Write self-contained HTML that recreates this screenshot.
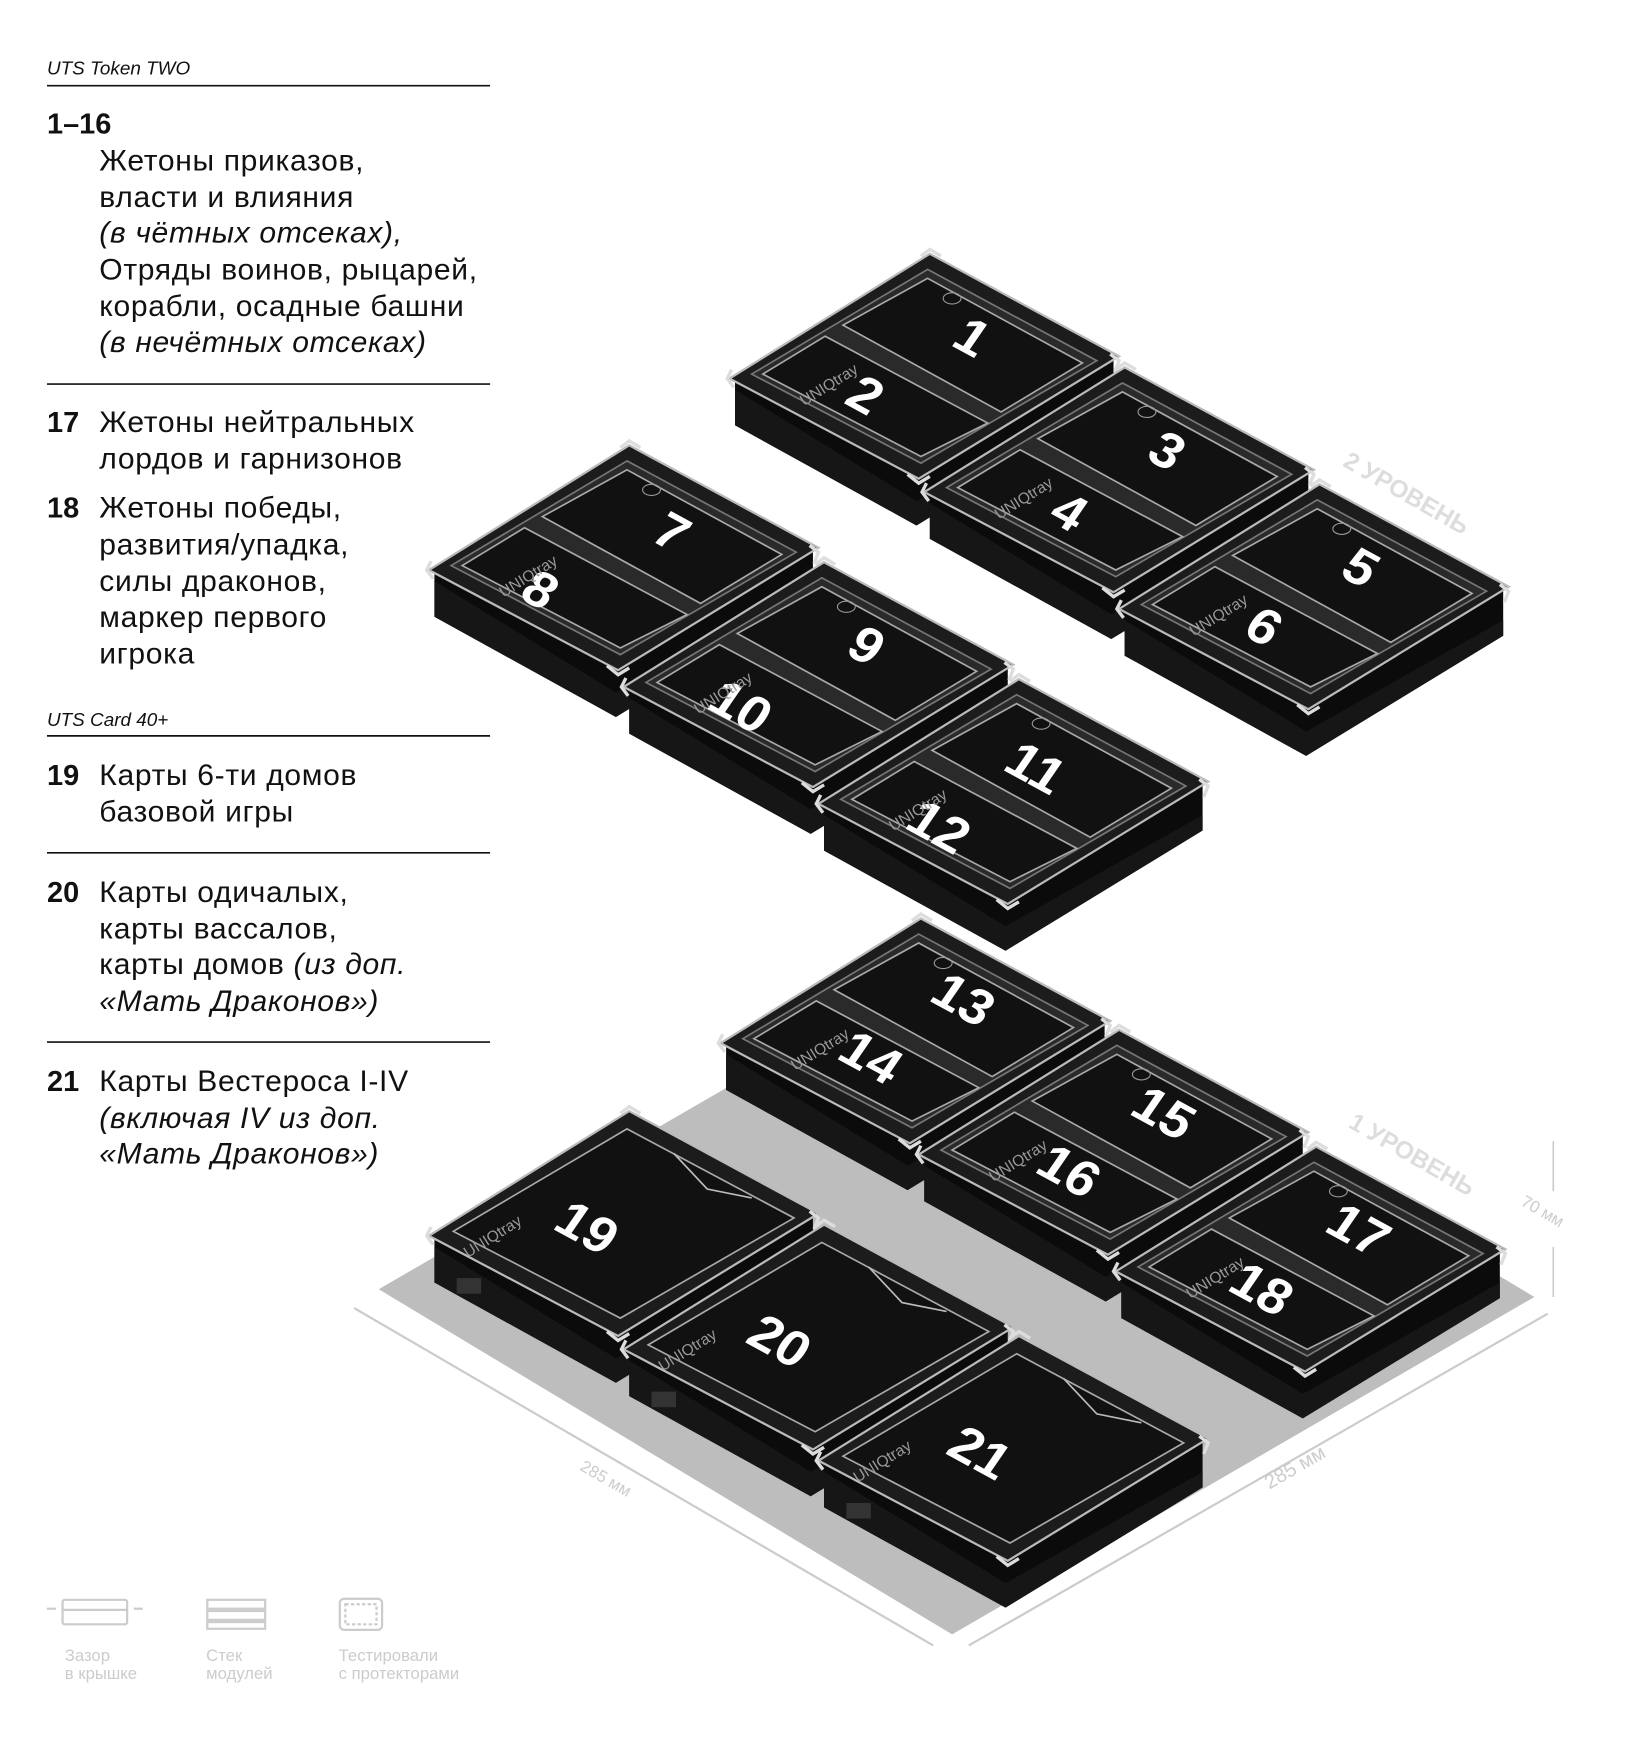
<!DOCTYPE html>
<html><head><meta charset="utf-8"><style>
html,body{margin:0;padding:0;background:#fff}
svg{display:block}
.t{font-family:"Liberation Sans",sans-serif;fill:#111}
.b{font-size:27px;letter-spacing:0.6px}
.n{font-size:26px;font-weight:bold}
.i{font-style:italic}
.num{font-family:"Liberation Sans",sans-serif;font-weight:bold;font-size:48px;fill:#fff}
.logo{font-family:"Liberation Sans",sans-serif;font-size:14px;fill:#999}
.lg{font-family:"Liberation Sans",sans-serif;font-size:15px;fill:#ccc}
</style></head><body>
<svg width="1637" height="1749" viewBox="0 0 1470 1571" xmlns="http://www.w3.org/2000/svg">
<defs>
<g id="tray">
<polygon points="-175,112 0,4 165,94 165,136 -12,244 -175,154" fill="#0b0b0b"/>
<polygon points="-175,122 -12,222 165,122 165,136 -12,244 -175,154" fill="#161616"/>
<polygon points="0,0 170,92 -10,202 -180,112" fill="#1c1c1c" stroke="#bbb" stroke-width="2"/>
<polygon points="-2,14 150,96 -8,188 -160,108" fill="#2a2a2a" stroke="#777" stroke-width="1.5"/>
<polygon points="-2,22 137,98 64,142 -78,64" fill="#111" stroke="#aaa" stroke-width="1.5"/>
<polygon points="-94,74 52,152 -8,182 -150,108" fill="#111" stroke="#aaa" stroke-width="1.5"/>
<path d="M-8,2 l8,-6 l10,6 M162,90 l8,6 l-4,10 M-20,198 l10,8 l10,-6 M-178,104 l-4,8 l6,8" fill="none" stroke="#ddd" stroke-width="3"/>
<ellipse cx="20" cy="40" rx="8" ry="5" fill="none" stroke="#999"/>
</g>
<g id="tray1">
<polygon points="-175,112 0,4 165,94 165,136 -12,244 -175,154" fill="#0b0b0b"/>
<polygon points="-175,122 -12,222 165,122 165,136 -12,244 -175,154" fill="#161616"/>
<polygon points="0,0 170,92 -10,202 -180,112" fill="#1c1c1c" stroke="#bbb" stroke-width="2"/>
<polygon points="-2,16 148,96 -8,186 -158,108" fill="#111" stroke="#aaa" stroke-width="1.5"/>
<polyline points="40,38 70,70 110,78" fill="none" stroke="#bbb" stroke-width="1.5"/>
<path d="M-8,2 l8,-6 l10,6 M162,90 l8,6 l-4,10 M-20,198 l10,8 l10,-6 M-178,104 l-4,8 l6,8" fill="none" stroke="#ddd" stroke-width="3"/>
<rect x="-155" y="150" width="22" height="14" fill="#333"/>
</g>
</defs>

<!-- left text -->
<text class="t i" x="42" y="67" font-size="17">UTS Token TWO</text>
<line x1="42" y1="77" x2="440" y2="77" stroke="#111" stroke-width="1.5"/>
<text class="t n" x="42" y="120">1–16</text>
<text class="t b" x="89" y="153">Жетоны приказов,</text>
<text class="t b" x="89" y="186">власти и влияния</text>
<text class="t b i" x="89" y="218">(в чётных отсеках),</text>
<text class="t b" x="89" y="251">Отряды воинов, рыцарей,</text>
<text class="t b" x="89" y="284">корабли, осадные башни</text>
<text class="t b i" x="89" y="316">(в нечётных отсеках)</text>
<line x1="42" y1="345" x2="440" y2="345" stroke="#111" stroke-width="1.5"/>
<text class="t n" x="42" y="388">17</text>
<text class="t b" x="89" y="388">Жетоны нейтральных</text>
<text class="t b" x="89" y="421">лордов и гарнизонов</text>
<text class="t n" x="42" y="465">18</text>
<text class="t b" x="89" y="465">Жетоны победы,</text>
<text class="t b" x="89" y="498">развития/упадка,</text>
<text class="t b" x="89" y="531">силы драконов,</text>
<text class="t b" x="89" y="563">маркер первого</text>
<text class="t b" x="89" y="596">игрока</text>
<text class="t i" x="42" y="652" font-size="17">UTS Card 40+</text>
<line x1="42" y1="661" x2="440" y2="661" stroke="#111" stroke-width="1.5"/>
<text class="t n" x="42" y="705">19</text>
<text class="t b" x="89" y="705">Карты 6-ти домов</text>
<text class="t b" x="89" y="738">базовой игры</text>
<line x1="42" y1="766" x2="440" y2="766" stroke="#111" stroke-width="1.5"/>
<text class="t n" x="42" y="810">20</text>
<text class="t b" x="89" y="810">Карты одичалых,</text>
<text class="t b" x="89" y="843">карты вассалов,</text>
<text class="t b" x="89" y="875">карты домов <tspan class="i">(из доп.</tspan></text>
<text class="t b i" x="89" y="908">«Мать Драконов»)</text>
<line x1="42" y1="936" x2="440" y2="936" stroke="#111" stroke-width="1.5"/>
<text class="t n" x="42" y="980">21</text>
<text class="t b" x="89" y="980">Карты Вестероса I-IV</text>
<text class="t b i" x="89" y="1013">(включая IV из доп.</text>
<text class="t b i" x="89" y="1045">«Мать Драконов»)</text>

<!-- bottom icons -->
<g stroke="#ccc" fill="none" stroke-width="2">
<rect x="56" y="1437" width="58" height="22" rx="2"/><line x1="56" y1="1446" x2="114" y2="1446"/>
<line x1="42" y1="1445" x2="50" y2="1445"/><line x1="120" y1="1445" x2="128" y2="1445"/>
<rect x="186" y="1437" width="52" height="8"/><rect x="186" y="1447" width="52" height="8"/><rect x="186" y="1457" width="52" height="6"/>
<rect x="305" y="1436" width="38" height="28" rx="4"/><rect x="310" y="1441" width="28" height="18" stroke-dasharray="3,2"/>
</g>
<text class="lg" x="58" y="1492">Зазор</text><text class="lg" x="58" y="1508">в крышке</text>
<text class="lg" x="185" y="1492">Стек</text><text class="lg" x="185" y="1508">модулей</text>
<text class="lg" x="304" y="1492">Тестировали</text><text class="lg" x="304" y="1508">с протекторами</text>

<!-- floor -->
<polygon points="340,1158 863,855 1378,1165 855,1468" fill="#bdbdbd"/>
<line x1="318" y1="1175" x2="838" y2="1478" stroke="#ccc" stroke-width="2"/>
<line x1="870" y1="1478" x2="1390" y2="1180" stroke="#ccc" stroke-width="2"/>
<text class="lg" font-size="18" transform="translate(520,1320) rotate(30)">285 мм</text>
<text class="lg" transform="translate(1140,1338) rotate(-30)" style="font-size:18px">285 мм</text>
<line x1="1395" y1="1025" x2="1395" y2="1070" stroke="#ccc" stroke-width="1.5"/>
<line x1="1395" y1="1120" x2="1395" y2="1165" stroke="#ccc" stroke-width="1.5"/>
<text class="lg" font-size="17" transform="translate(1365,1082) rotate(30)">70 мм</text>
<text font-family="Liberation Sans,sans-serif" font-weight="bold" font-size="22" fill="#ddd" transform="translate(1205,418) rotate(30)">2 УРОВЕНЬ</text>
<text font-family="Liberation Sans,sans-serif" font-weight="bold" font-size="22" fill="#ddd" transform="translate(1210,1012) rotate(30)">1 УРОВЕНЬ</text>

<!-- level 1 -->
<use href="#tray" x="827" y="825"/>
<use href="#tray" x="1005" y="925"/>
<use href="#tray" x="1182" y="1030"/>
<use href="#tray1" x="565" y="998"/>
<use href="#tray1" x="740" y="1100"/>
<use href="#tray1" x="915" y="1200"/>
<!-- level 2 -->
<use href="#tray" x="835" y="228"/>
<use href="#tray" x="1010" y="330"/>
<use href="#tray" x="565" y="400"/>
<use href="#tray" x="1185" y="435"/>
<use href="#tray" x="740" y="505"/>
<use href="#tray" x="915" y="610"/>

<!-- numbers -->
<g class="num" text-anchor="middle">
<text transform="matrix(0.88,0.48,-0.55,0.8,873,303)" dy="16">1</text>
<text transform="matrix(0.88,0.48,-0.55,0.8,777,355)" dy="16">2</text>
<text transform="matrix(0.88,0.48,-0.55,0.8,1048,405)" dy="16">3</text>
<text transform="matrix(0.88,0.48,-0.55,0.8,960,460)" dy="16">4</text>
<text transform="matrix(0.88,0.48,-0.55,0.8,1222,510)" dy="16">5</text>
<text transform="matrix(0.88,0.48,-0.55,0.8,1135,563)" dy="16">6</text>
<text transform="matrix(0.88,0.48,-0.55,0.8,603,478)" dy="16">7</text>
<text transform="matrix(0.88,0.48,-0.55,0.8,485,530)" dy="16">8</text>
<text transform="matrix(0.88,0.48,-0.55,0.8,778,580)" dy="16">9</text>
<text transform="matrix(0.88,0.48,-0.55,0.8,665,635)" dy="16">10</text>
<text transform="matrix(0.88,0.48,-0.55,0.8,930,690)" dy="16">11</text>
<text transform="matrix(0.88,0.48,-0.55,0.8,843,743)" dy="16">12</text>
<text transform="matrix(0.88,0.48,-0.55,0.8,865,898)" dy="16">13</text>
<text transform="matrix(0.88,0.48,-0.55,0.8,782,950)" dy="16">14</text>
<text transform="matrix(0.88,0.48,-0.55,0.8,1045,1000)" dy="16">15</text>
<text transform="matrix(0.88,0.48,-0.55,0.8,960,1052)" dy="16">16</text>
<text transform="matrix(0.88,0.48,-0.55,0.8,1220,1105)" dy="16">17</text>
<text transform="matrix(0.88,0.48,-0.55,0.8,1133,1158)" dy="16">18</text>
<text transform="matrix(0.88,0.48,-0.55,0.8,527,1103)" dy="16">19</text>
<text transform="matrix(0.88,0.48,-0.55,0.8,700,1205)" dy="16">20</text>
<text transform="matrix(0.88,0.48,-0.55,0.8,880,1305)" dy="16">21</text>
</g>
<g class="logo">
<text transform="translate(722,365) rotate(-32)">UNIQtray</text>
<text transform="translate(897,467) rotate(-32)">UNIQtray</text>
<text transform="translate(1072,572) rotate(-32)">UNIQtray</text>
<text transform="translate(452,537) rotate(-32)">UNIQtray</text>
<text transform="translate(627,642) rotate(-32)">UNIQtray</text>
<text transform="translate(802,747) rotate(-32)">UNIQtray</text>
<text transform="translate(714,962) rotate(-32)">UNIQtray</text>
<text transform="translate(892,1062) rotate(-32)">UNIQtray</text>
<text transform="translate(1069,1167) rotate(-32)">UNIQtray</text>
<text transform="translate(420,1130) rotate(-32)">UNIQtray</text>
<text transform="translate(595,1232) rotate(-32)">UNIQtray</text>
<text transform="translate(770,1332) rotate(-32)">UNIQtray</text>
</g>
</svg>
</body></html>
